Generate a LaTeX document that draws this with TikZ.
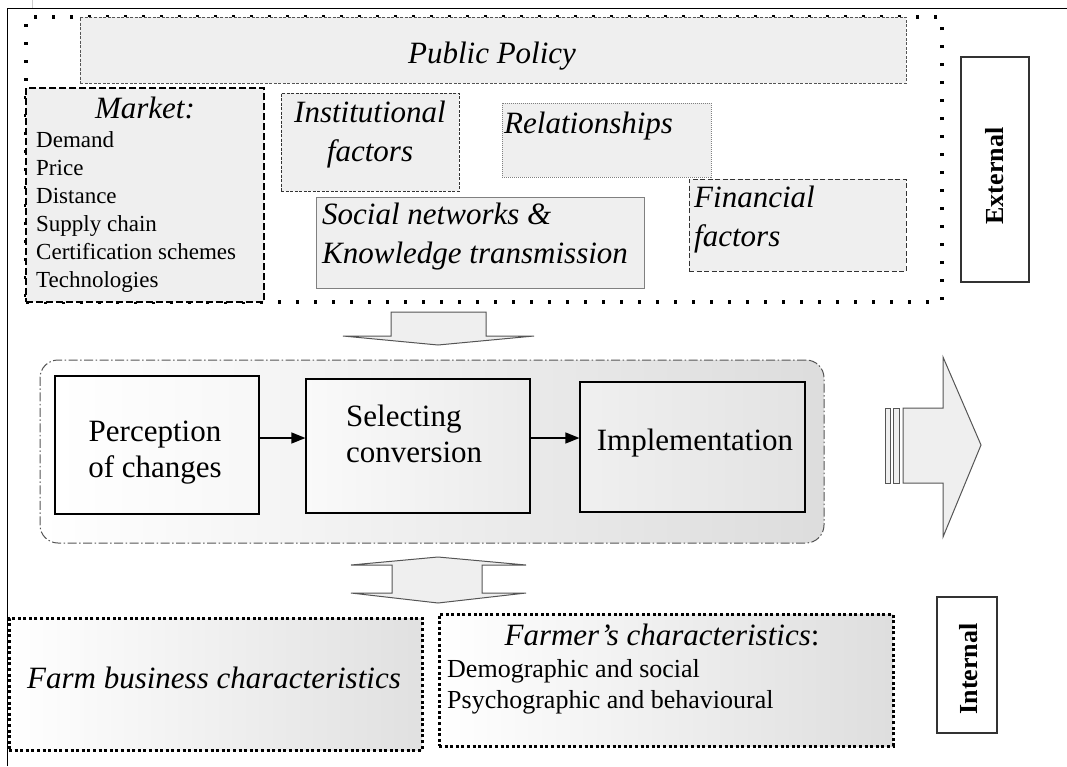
\documentclass[tikz,border=0pt]{standalone}
\usepackage{fontspec}
\setmainfont{Liberation Serif}[ItalicFont={Liberation Serif Italic},
  BoldFont={Liberation Serif Bold}]
\usepackage{tikz}
\usetikzlibrary{arrows.meta}
\definecolor{boxgray}{HTML}{EFEFEF}
\definecolor{linegray}{HTML}{555555}

\begin{document}
\begin{tikzpicture}[x=1pt,y=-1pt,
  box/.style={inner sep=0pt, fill=boxgray},
  bigit/.style={font=\fontsize{31}{39}\selectfont\itshape, inner sep=0pt},
  bigrm/.style={font=\fontsize{31}{36}\selectfont, inner sep=0pt},
  listtext/.style={font=\fontsize{23}{28}\selectfont, inner sep=0pt, align=left},
  sidetext/.style={font=\fontsize{26}{30}\selectfont\bfseries, inner sep=0pt, rotate=90},
  process/.style={draw=black, line width=1.2pt, inner sep=0pt},
  blockarrow/.style={fill=boxgray, draw=linegray, line width=1pt},
  bigdots/.style={draw=black, line width=3pt, dash pattern=on 3pt off 2.6pt, inner sep=0pt},
  flow/.style={line width=1.3pt, -{Triangle[length=14pt,width=11pt]}}]
\useasboundingbox (0,0) rectangle (1067,766);

% frame
\draw[line width=1pt] (7,766) -- (7,8) -- (1067,8);
\draw[gray!40] (32,0) -- (32,8);

% external factors
\node[draw, line width=3.5pt, dash pattern=on 3pt off 15pt, inner sep=0pt,
  minimum width=916pt, minimum height=285pt] (external) at (484,159.5) {};
\node[box, draw=linegray, line width=0.8pt, dash pattern=on 3pt off 1.5pt,
  minimum width=826pt, minimum height=66pt] (policy) at (493,50) {};
\node[bigit] (policytext) at (492,56) {Public Policy};

\node[box, draw=black, line width=1.2pt, dash pattern=on 7pt off 3pt,
  minimum width=238pt, minimum height=214pt] (market) at (145,195) {};
\node[bigit, anchor=base] (markethead) at (145,118) {Market:};
\node[listtext, anchor=north west] (marketlist) at (36,131)
  {Demand\\Price\\Distance\\Supply chain\\Certification schemes\\Technologies};

\node[box, draw=black!80, line width=0.9pt, dash pattern=on 3pt off 1.5pt,
  minimum width=178pt, minimum height=98pt] (institutional) at (370,142) {};
\node[bigit, align=center] (insttext) at (370,135) {Institutional\\factors};

\node[box, draw=gray, line width=0.7pt, dash pattern=on 1pt off 1pt,
  minimum width=209pt, minimum height=74pt] (relations) at (606.5,140) {};
\node[bigit, anchor=base west] (reltext) at (504,133) {Relationships};

\node[box, draw=gray, line width=1pt,
  minimum width=328pt, minimum height=91pt] (social) at (480,242.5) {};
\node[bigit, align=left, anchor=west] (socialtext) at (322,237)
  {Social networks \&\\Knowledge transmission};

\node[box, draw=black!80, line width=0.9pt, dash pattern=on 5pt off 2.5pt,
  minimum width=217pt, minimum height=92pt] (financial) at (797.5,225) {};
\node[bigit, align=left, anchor=west] (fintext) at (694,220) {Financial\\factors};

\node[draw=black!80, line width=1.8pt, inner sep=0pt,
  minimum width=68pt, minimum height=225pt] (extbox) at (995,169.5) {};
\node[sidetext] (exttext) at (995,176) {External};

% arrow down
\draw[blockarrow] (391,312) -- (486,312) -- (486,336) -- (534,336) -- (438,345)
  -- (343,336) -- (391,336) -- cycle;

% decision process
\node[draw=linegray, line width=1pt, dash pattern=on 9pt off 2.5pt on 1.5pt off 2.5pt,
  rounded corners=18pt, left color=white, right color=gray!27, inner sep=0pt,
  minimum width=784pt, minimum height=183pt] (process) at (432,451.5) {};

\node[process, left color=white, right color=gray!6,
  minimum width=204pt, minimum height=138pt] (perception) at (157,445) {};
\node[bigrm, align=center] (perctext) at (155,453) {Perception\\of changes};
\node[process, left color=gray!4, right color=gray!16,
  minimum width=224pt, minimum height=134pt] (selecting) at (418,446) {};
\node[bigrm, align=left, anchor=west] (seltext) at (346,434) {Selecting\\conversion};
\node[process, left color=gray!12, right color=gray!22,
  minimum width=225pt, minimum height=130pt] (implementation) at (692.5,447) {};
\node[bigrm, anchor=base] (impltext) at (695,450) {Implementation};

\draw[flow] ([yshift=7pt]perception.east) -- ([yshift=8pt]selecting.west);
\draw[flow] ([yshift=8pt]selecting.east) -- ([yshift=9pt]implementation.west);

% striped arrow right
\draw[blockarrow] (903,408) -- (943,408) -- (943,357) -- (981,445) -- (943,537)
  -- (943,483) -- (903,483) -- cycle;
\draw[blockarrow] (885,408) rectangle (890,483);
\draw[blockarrow] (893,408) rectangle (899,483);

% arrow up and down
\draw[blockarrow] (438,557) -- (526,565) -- (482,565) -- (482,593) -- (526,593)
  -- (438,603) -- (351,593) -- (392,593) -- (392,565) -- (351,565) -- cycle;

% internal factors
\node[bigdots, left color=white, right color=gray!24,
  minimum width=413pt, minimum height=132pt] (farm) at (215.5,684) {};
\node[bigit, anchor=base] (farmtext) at (214,688) {Farm business characteristics};

\node[bigdots, left color=white, right color=gray!26,
  minimum width=454pt, minimum height=132pt] (farmer) at (666,680) {};
\node[bigit, anchor=base] (farmertext) at (662,645) {Farmer’s characteristics{\upshape :}};
\node[font=\fontsize{26}{31}\selectfont, align=left, inner sep=0pt, anchor=north west]
  (farmerlist) at (447,659) {Demographic and social\\Psychographic and behavioural};

\node[draw=black!80, line width=1.8pt, inner sep=0pt,
  minimum width=60pt, minimum height=136pt] (intbox) at (967,665) {};
\node[sidetext] (inttext) at (969,669) {Internal};
\end{tikzpicture}
\end{document}
